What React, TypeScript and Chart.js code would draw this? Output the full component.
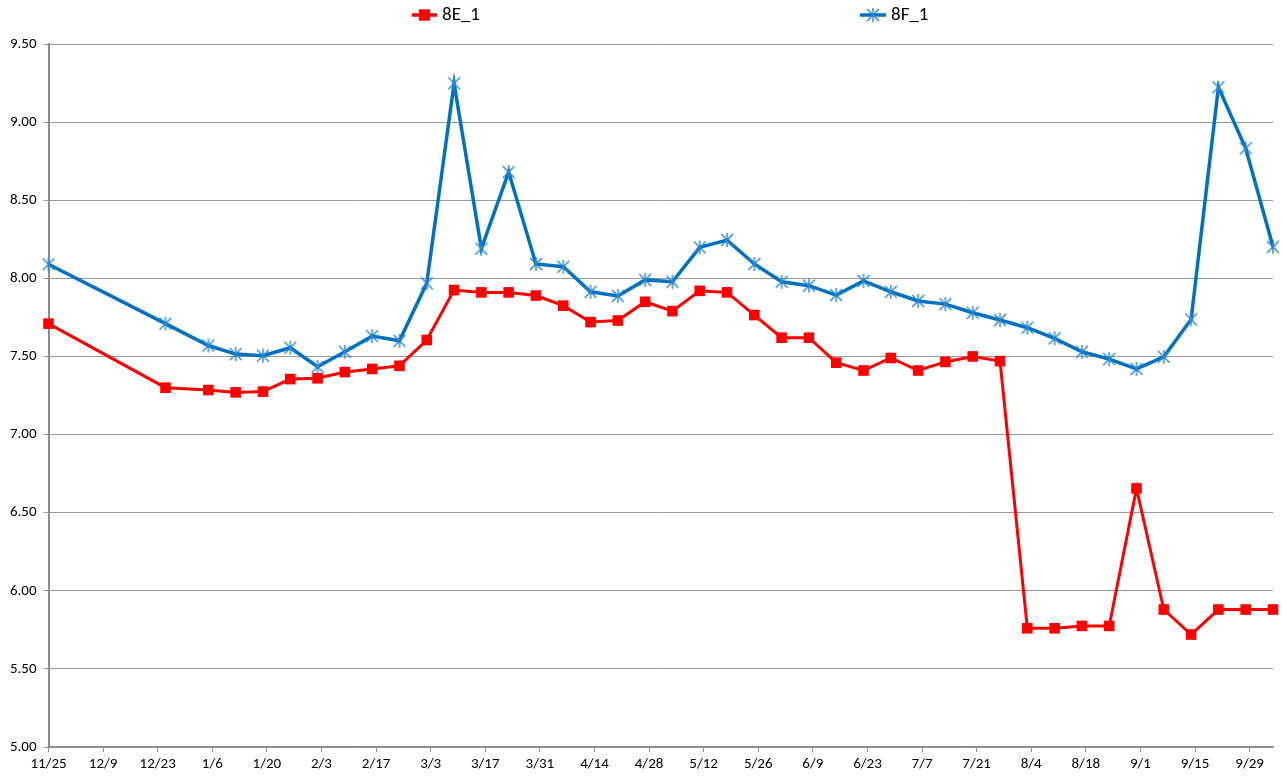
import React, { useEffect, useRef } from "react";
import { Chart, registerables } from "chart.js";

Chart.register(...registerables);

// Sample dates (month/day), season spanning Nov -> Oct
const sampleDates = [
  "11/25", "12/25", "1/5", "1/12", "1/19", "1/26", "2/2", "2/9", "2/16", "2/23",
  "3/2", "3/9", "3/16", "3/23", "3/30", "4/6", "4/13", "4/20", "4/27", "5/4",
  "5/11", "5/18", "5/25", "6/1", "6/8", "6/15", "6/22", "6/29", "7/6", "7/13",
  "7/20", "7/27", "8/3", "8/10", "8/17", "8/24", "8/31", "9/7", "9/14", "9/21",
  "9/28", "10/5",
];

const series8E = [
  7.71, 7.30, 7.285, 7.27, 7.275, 7.355, 7.36, 7.40, 7.42, 7.44,
  7.605, 7.925, 7.91, 7.91, 7.89, 7.825, 7.72, 7.73, 7.85, 7.79,
  7.92, 7.91, 7.765, 7.62, 7.62, 7.46, 7.41, 7.49, 7.41, 7.465,
  7.50, 7.47, 5.76, 5.76, 5.775, 5.775, 6.655, 5.88, 5.72, 5.88,
  5.88, 5.88,
];

const series8F = [
  8.09, 7.71, 7.57, 7.515, 7.505, 7.556, 7.434, 7.53, 7.63, 7.60,
  7.968, 9.248, 8.19, 8.68, 8.092, 8.074, 7.914, 7.887, 7.99, 7.978,
  8.198, 8.245, 8.092, 7.978, 7.953, 7.893, 7.983, 7.914, 7.855, 7.835,
  7.78, 7.733, 7.684, 7.616, 7.53, 7.483, 7.42, 7.498, 7.737, 9.223,
  8.832, 8.202,
];

const xTickLabels = [
  "11/25", "12/9", "12/23", "1/6", "1/20", "2/3", "2/17", "3/3", "3/17", "3/31",
  "4/14", "4/28", "5/12", "5/26", "6/9", "6/23", "7/7", "7/21", "8/4", "8/18",
  "9/1", "9/15", "9/29",
];

const seriesNames = ["8E_1", "8F_1"];
const seriesColors = ["#ff0000", "#0070c0"];
const starColor = "#2a86d0";

const FONT = "Carlito, Calibri, Lato, sans-serif";

function dayOffset(md: string): number {
  const [m, d] = md.split("/").map(Number);
  const y = m >= 11 ? 2013 : 2014;
  return Math.round((Date.UTC(y, m - 1, d) - Date.UTC(2013, 10, 25)) / 86400000);
}

function drawExcelStar(ctx: CanvasRenderingContext2D, x: number, y: number, r: number) {
  const a = r * 0.85;
  ctx.beginPath();
  ctx.moveTo(x - a, y - a);
  ctx.lineTo(x + a, y + a);
  ctx.moveTo(x - a, y + a);
  ctx.lineTo(x + a, y - a);
  ctx.moveTo(x, y - r);
  ctx.lineTo(x, y + r);
  ctx.stroke();
}

function makeStarImage(): HTMLCanvasElement {
  const c = document.createElement("canvas");
  c.width = 16;
  c.height = 16;
  const ctx = c.getContext("2d")!;
  ctx.strokeStyle = starColor;
  ctx.lineWidth = 1.4;
  drawExcelStar(ctx, 8, 8, 7);
  return c;
}

const legendPlugin = {
  id: "customLegend",
  afterDraw(chart: any) {
    const ctx = chart.ctx;
    const items = [
      { x0: 412, x1: 437, tx: 442, style: "rect", r: 8 },
      { x0: 860, x1: 886, tx: 891, style: "star", r: 7 },
    ];
    const y = 15;
    ctx.save();
    items.forEach((it, i) => {
      ctx.strokeStyle = seriesColors[i];
      ctx.lineWidth = 3.5;
      ctx.beginPath();
      ctx.moveTo(it.x0, y);
      ctx.lineTo(it.x1, y);
      ctx.stroke();
      const cx = (it.x0 + it.x1) / 2;
      if (it.style === "rect") {
        ctx.fillStyle = seriesColors[i];
        const s = Math.SQRT1_2 * it.r;
        ctx.fillRect(cx - s, y - s, 2 * s, 2 * s);
      } else {
        ctx.strokeStyle = starColor;
        ctx.lineWidth = 1.4;
        drawExcelStar(ctx, cx, y, it.r);
      }
      ctx.fillStyle = "#000";
      ctx.font = `19px ${FONT}`;
      ctx.textBaseline = "middle";
      ctx.textAlign = "left";
      ctx.fillText(seriesNames[i], it.tx, y);
    });
    ctx.restore();
  },
};

export default function App() {
  const canvasRef = useRef<HTMLCanvasElement | null>(null);

  useEffect(() => {
    if (!canvasRef.current) return;
    const xs = sampleDates.map(dayOffset);
    const maxDay = xs[xs.length - 1];
    const starImg = makeStarImage();
    const chart = new Chart(canvasRef.current, {
      type: "line",
      data: {
        datasets: [
          {
            label: seriesNames[0],
            data: xs.map((x, i) => ({ x, y: series8E[i] })),
            borderColor: seriesColors[0],
            backgroundColor: seriesColors[0],
            borderWidth: 3,
            pointStyle: "rect",
            pointRadius: 7.5,
            pointBorderWidth: 0,
            pointBackgroundColor: seriesColors[0],
            tension: 0,
            clip: false as any,
          },
          {
            label: seriesNames[1],
            data: xs.map((x, i) => ({ x, y: series8F[i] })),
            borderColor: seriesColors[1],
            backgroundColor: seriesColors[1],
            borderWidth: 3.5,
            pointStyle: starImg as any,
            pointRadius: 7,
            tension: 0,
            clip: false as any,
          },
        ],
      },
      options: {
        animation: false,
        responsive: false,
        maintainAspectRatio: false,
        layout: { padding: { top: 44, right: 11, left: 0, bottom: 0 } },
        plugins: {
          legend: { display: false },
          tooltip: { enabled: false },
        },
        scales: {
          x: {
            type: "linear",
            min: 0,
            max: maxDay,
            afterFit: (scale: any) => {
              scale.height = 31;
            },
            border: { color: "#8c8c8c", width: 1.5 },
            grid: {
              drawOnChartArea: false,
              drawTicks: true,
              tickLength: 5,
              color: "#8c8c8c",
            },
            ticks: {
              stepSize: 14,
              includeBounds: false,
              autoSkip: false,
              maxRotation: 0,
              minRotation: 0,
              padding: 3,
              color: "#000",
              font: { family: FONT, size: 15 },
              callback: (v: any) => {
                const idx = Math.round(Number(v) / 14);
                return xTickLabels[idx] ?? "";
              },
            },
          },
          y: {
            type: "linear",
            min: 5,
            max: 9.5,
            afterFit: (scale: any) => {
              scale.width = 48.5;
            },
            border: { color: "#8c8c8c", width: 2 },
            grid: {
              color: "#999999",
              lineWidth: 1,
              drawTicks: true,
              tickLength: 5,
            },
            ticks: {
              stepSize: 0.5,
              padding: 7,
              color: "#000",
              font: { family: FONT, size: 15 },
              callback: (v: any) => Number(v).toFixed(2),
            },
          },
        },
      },
      plugins: [legendPlugin],
    });
    return () => chart.destroy();
  }, []);

  return (
    <div style={{ position: "fixed", left: 0, top: 0, width: 1284, height: 778, background: "#fff" }}>
      <canvas ref={canvasRef} width={1284} height={778} style={{ width: 1284, height: 778, display: "block" }} />
    </div>
  );
}
